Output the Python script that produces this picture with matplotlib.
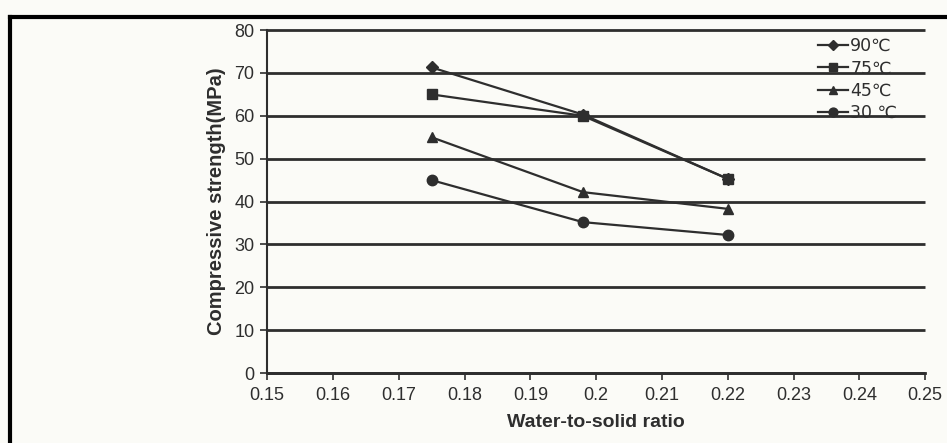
import matplotlib
matplotlib.use('Agg')
import matplotlib.pyplot as plt

# data
ratio = [0.175, 0.198, 0.22]
s90 = [71.3, 60.3, 45.3]
s75 = [65.0, 60.0, 45.3]
s45 = [55.0, 42.2, 38.3]
s30 = [45.0, 35.2, 32.2]
labels = ['90\u2103', '75\u2103', '45\u2103', '30 \u2103']
markers = ['D', 's', '^', 'o']
series = [s90, s75, s45, s30]

xticks = [0.15, 0.16, 0.17, 0.18, 0.19, 0.2, 0.21, 0.22, 0.23, 0.24, 0.25]
xtick_labels = ['0.15', '0.16', '0.17', '0.18', '0.19', '0.2', '0.21', '0.22', '0.23', '0.24', '0.25']
yticks = [0, 10, 20, 30, 40, 50, 60, 70, 80]

plt.rcParams['font.family'] = ['Liberation Sans', 'DejaVu Sans']

bg = '#fbfbf7'
ink = '#2e2e2e'

fig = plt.figure(figsize=(9.47, 4.43), dpi=100, facecolor=bg)
ax = fig.add_axes([0.282, 0.158, 0.695, 0.774])
ax.set_facecolor(bg)

# frame drawn around the scanned figure
fig.add_artist(plt.Line2D([0.0105, 0.0105], [0.0, 0.962], transform=fig.transFigure,
                          color='black', lw=3))
fig.add_artist(plt.Line2D([0.0105, 1.0], [0.962, 0.962], transform=fig.transFigure,
                          color='black', lw=3))

# gridlines stop at the last x tick
ax.hlines(yticks, xticks[0], xticks[-1], colors=ink, lw=2, zorder=1, clip_on=False)

for vals, m, lab in zip(series, markers, labels):
    ms = 6 if m == 'D' else 7.5
    ax.plot(ratio, vals, color=ink, lw=1.6, marker=m, markersize=ms,
            markerfacecolor=ink, markeredgecolor=ink, label=lab, zorder=3)

ax.set_xlim(0.15, 0.25)
ax.set_ylim(0, 80)
ax.set_xticks(xticks)
ax.set_xticklabels(xtick_labels)
ax.set_yticks(yticks)
ax.tick_params(axis='both', labelsize=13, colors=ink, length=5, width=1.2, direction='out')
ax.tick_params(axis='x', pad=5)
ax.tick_params(axis='y', pad=4)

for side in ['top', 'right']:
    ax.spines[side].set_visible(False)
ax.spines['left'].set_color(ink)
ax.spines['left'].set_linewidth(1.5)
ax.spines['bottom'].set_color(ink)
ax.spines['bottom'].set_linewidth(2)

ax.set_xlabel('Water-to-solid ratio', fontsize=14, fontweight='bold', color=ink, labelpad=7)
ax.set_ylabel('Compressive strength(MPa)', fontsize=14.5, fontweight='bold', color=ink, labelpad=6)

leg = ax.legend(loc='upper right', bbox_to_anchor=(0.968, 1.0), frameon=False,
                handlelength=1.7, handletextpad=0.15, labelspacing=0.25,
                borderaxespad=0.0, markerscale=0.85,
                prop={'family': ['Liberation Sans Narrow', 'DejaVu Sans'], 'size': 12.5})
for t in leg.get_texts():
    t.set_color(ink)

fig.savefig('out.png', dpi=100, facecolor=bg)
